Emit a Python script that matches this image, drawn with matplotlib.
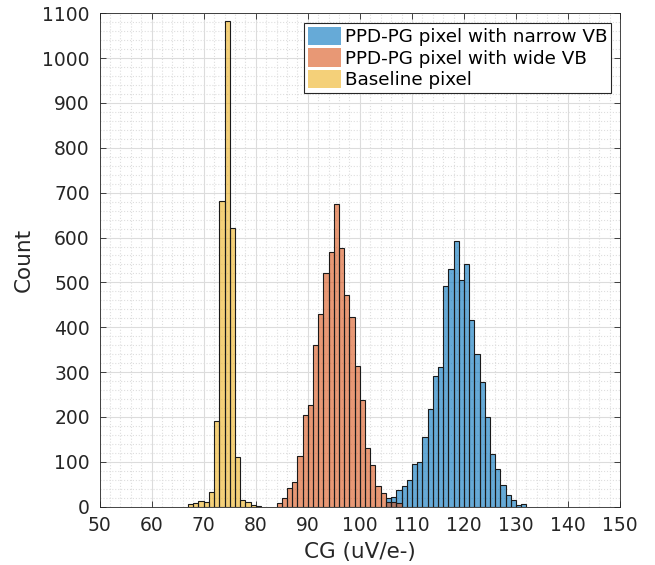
import matplotlib
matplotlib.use('AGG')

import numpy as np
import matplotlib.pyplot as plt
from matplotlib.ticker import MultipleLocator

# histogram data, bin width 1 uV/e-, first bin left edge given
narrow_start = 105
narrow_counts = [19, 22, 37, 46, 59, 96, 100, 156, 218, 291, 311, 492, 530, 592,
                 505, 542, 417, 341, 279, 200, 118, 83, 48, 25, 14, 3, 5]

wide_start = 84
wide_counts = [8, 19, 42, 55, 114, 204, 227, 360, 430, 522, 568, 674, 577, 471,
               424, 313, 238, 131, 92, 46, 31, 11, 11, 8]

base_start = 67
base_counts = [5, 8, 13, 10, 33, 190, 681, 1083, 621, 111, 15, 11, 4, 2]

labels = ['PPD-PG pixel with narrow VB', 'PPD-PG pixel with wide VB', 'Baseline pixel']
colors = [(0, 0.447, 0.741), (0.85, 0.325, 0.098), (0.929, 0.694, 0.125)]

fig = plt.figure(figsize=(6.55, 5.65), dpi=100)
ax = fig.add_axes([0.152, 0.1032, 0.7948, 0.8733])

series = [(narrow_start, narrow_counts), (wide_start, wide_counts), (base_start, base_counts)]
for i in range(len(series)):
    start, counts = series[i]
    left = start + np.arange(len(counts))
    ax.bar(left, counts, width=1.0, align='edge', color=colors[i], alpha=0.6,
           edgecolor='none', label=labels[i], zorder=2 + i)
    # edges drawn opaque, like MATLAB
    ax.bar(left, counts, width=1.0, align='edge', facecolor='none',
           edgecolor='#1a1a1a', linewidth=0.8, zorder=2 + i)

ax.set_xlim(50, 150)
ax.set_ylim(0, 1100)
ax.xaxis.set_major_locator(MultipleLocator(10))
ax.xaxis.set_minor_locator(MultipleLocator(2))
ax.yaxis.set_major_locator(MultipleLocator(100))
ax.yaxis.set_minor_locator(MultipleLocator(20))

ax.grid(which='major', color='#dcdcdc', linewidth=0.8, zorder=0)
ax.grid(which='minor', color='#dedede', linestyle=':', linewidth=0.8, zorder=0)
ax.set_axisbelow(True)

ax.tick_params(which='both', direction='in', top=True, right=True,
               labelsize=13.5, colors='#262626')
ax.tick_params(which='major', length=4, width=0.6)
ax.tick_params(which='minor', length=0)
ax.tick_params(axis='x', pad=7)
ax.tick_params(axis='y', pad=7)
for s in ax.spines.values():
    s.set_color('#262626')
    s.set_linewidth(0.6)

ax.set_xlabel('CG (uV/e-)', fontsize=15.5, color='#262626', labelpad=5)
ax.set_ylabel('Count', fontsize=15.5, color='#262626', labelpad=6)

leg = ax.legend(loc='upper right', fontsize=13.2, fancybox=False, framealpha=1,
                edgecolor='#262626', borderpad=0.2, handlelength=1.8,
                handleheight=1.15, handletextpad=0.25, labelspacing=0.12,
                borderaxespad=0.0, bbox_to_anchor=(0.983, 0.98))
leg.get_frame().set_linewidth(0.8)

plt.savefig('out.png', dpi=100)
plt.close(fig)
